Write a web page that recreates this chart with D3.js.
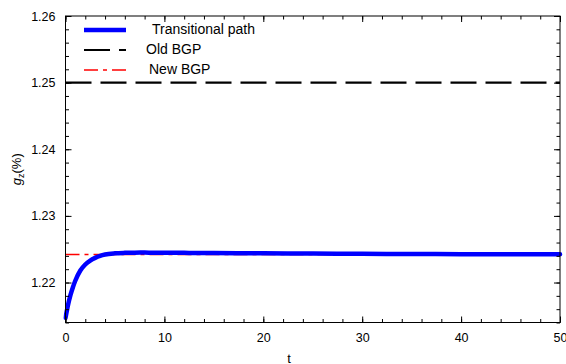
<!DOCTYPE html>
<html>
<head>
<meta charset="utf-8">
<script src="https://cdn.jsdelivr.net/npm/d3@7"></script>
<style>
  html, body { margin: 0; padding: 0; background: #fff; }
  svg { display: block; font-family: "Liberation Sans", Arial, sans-serif; }
</style>
</head>
<body>
<svg id="chart" width="566" height="364"></svg>
<script>
// Transitional path of g_z after the shock
const tValues = [0, 0.25, 0.5, 0.75, 1, 1.5, 2, 2.5, 3, 3.5, 4, 5, 6, 7, 8, 9, 10, 12, 15, 20, 25, 30, 35, 40, 45, 50];
const gzValues = [1.2147, 1.2166, 1.2181, 1.2193, 1.2203, 1.2218, 1.2227, 1.2233, 1.2237, 1.2240, 1.2242,
                  1.22438, 1.22445, 1.22448, 1.22449, 1.22448, 1.22447, 1.22445, 1.22442, 1.22438,
                  1.22434, 1.22431, 1.22428, 1.22426, 1.22425, 1.22424];
const oldBGP = 1.25;
const newBGP = 1.2242;

const xTicks = [0, 10, 20, 30, 40, 50];
const yTicks = [1.22, 1.23, 1.24, 1.25, 1.26];
const xMinorTicks = d3.range(0, 50.001, 2);
const yMinorTicks = d3.range(1.214, 1.2601, 0.002).map(v => +v.toFixed(3));

const legendLabels = ["Transitional path", "Old BGP", "New BGP"];

const margin = { left: 65.5, right: 6, top: 16, bottom: 41.5 };
const W = 566, H = 364;
const svg = d3.select("#chart");

const x = d3.scaleLinear().domain([0, 50]).range([margin.left, W - margin.right]);
const y = d3.scaleLinear().domain([1.214, 1.26]).range([H - margin.bottom, margin.top]);

const x0 = x.range()[0], x1 = x.range()[1];
const y0 = y.range()[0], y1 = y.range()[1];

// clip for the data lines
svg.append("defs").append("clipPath").attr("id", "plotClip")
  .append("rect").attr("x", x0 - 2).attr("y", y1).attr("width", x1 - x0 + 5).attr("height", y0 - y1);

const plot = svg.append("g").attr("clip-path", "url(#plotClip)");

// old balanced growth path
plot.append("line")
  .attr("x1", x(0)).attr("x2", x(50))
  .attr("y1", y(oldBGP)).attr("y2", y(oldBGP))
  .attr("stroke", "#000").attr("stroke-width", 2.2)
  .attr("stroke-dasharray", "26,9");

// new balanced growth path
plot.append("line")
  .attr("x1", x(0)).attr("x2", x(50))
  .attr("y1", y(newBGP)).attr("y2", y(newBGP))
  .attr("stroke", "#ff0000").attr("stroke-width", 1.6)
  .attr("stroke-dasharray", "14,5,4,5");

// transitional path
const pathData = tValues.map((t, i) => [t, gzValues[i]]);
plot.append("path")
  .datum(pathData)
  .attr("fill", "none")
  .attr("stroke", "#0000ff")
  .attr("stroke-width", 4.5)
  .attr("stroke-linecap", "round")
  .attr("d", d3.line().x(d => x(d[0])).y(d => y(d[1])).curve(d3.curveMonotoneX));

// frame
svg.append("rect")
  .attr("x", x0).attr("y", y1).attr("width", x1 - x0).attr("height", y0 - y1)
  .attr("fill", "none").attr("stroke", "#000").attr("stroke-width", 1);

// axes with inward ticks
function styleAxis(g) {
  g.select(".domain").remove();
  g.selectAll(".tick line").attr("stroke", "#000");
}
const fmt = d3.format(".2f");
const tickFont = 12.5;

// bottom
svg.append("g").attr("transform", `translate(0,${y0})`)
  .call(d3.axisBottom(x).tickValues(xMinorTicks).tickSize(-3.5).tickFormat(""))
  .call(styleAxis);
svg.append("g").attr("transform", `translate(0,${y0})`)
  .call(d3.axisBottom(x).tickValues(xTicks).tickSize(-6).tickPadding(11).tickFormat(d3.format("d")))
  .call(styleAxis)
  .call(g => g.selectAll("text").attr("font-size", tickFont).attr("fill", "#000")
    .attr("font-family", "'Liberation Sans', Arial, sans-serif"));
// top
svg.append("g").attr("transform", `translate(0,${y1})`)
  .call(d3.axisTop(x).tickValues(xMinorTicks).tickSize(-3.5).tickFormat(""))
  .call(styleAxis);
svg.append("g").attr("transform", `translate(0,${y1})`)
  .call(d3.axisTop(x).tickValues(xTicks).tickSize(-6).tickFormat(""))
  .call(styleAxis);
// left
svg.append("g").attr("transform", `translate(${x0},0)`)
  .call(d3.axisLeft(y).tickValues(yMinorTicks).tickSize(-3.5).tickFormat(""))
  .call(styleAxis);
svg.append("g").attr("transform", `translate(${x0},0)`)
  .call(d3.axisLeft(y).tickValues(yTicks).tickSize(-6).tickPadding(10).tickFormat(fmt))
  .call(styleAxis)
  .call(g => g.selectAll("text").attr("font-size", tickFont).attr("fill", "#000")
    .attr("font-family", "'Liberation Sans', Arial, sans-serif"));
// right
svg.append("g").attr("transform", `translate(${x1},0)`)
  .call(d3.axisRight(y).tickValues(yMinorTicks).tickSize(-3.5).tickFormat(""))
  .call(styleAxis);
svg.append("g").attr("transform", `translate(${x1},0)`)
  .call(d3.axisRight(y).tickValues(yTicks).tickSize(-6).tickFormat(""))
  .call(styleAxis);

// axis titles
svg.append("text")
  .attr("x", 289).attr("y", 363)
  .attr("text-anchor", "middle").attr("font-size", 13)
  .text("t");

const yl = svg.append("text")
  .attr("transform", `translate(21,${(y0 + y1) / 2}) rotate(-90)`)
  .attr("text-anchor", "middle").attr("font-size", 13);
yl.append("tspan").attr("font-style", "italic").text("g");
yl.append("tspan").attr("font-size", 9).attr("dy", 3).text("z");
yl.append("tspan").attr("dy", -3).text("(%)");

// legend
const legend = svg.append("g");
const legendStyles = [
  { stroke: "#0000ff", width: 4.5, dash: null, y: 30, tx: 152 },
  { stroke: "#000", width: 2.2, dash: "26,9", y: 50, tx: 146 },
  { stroke: "#ff0000", width: 1.6, dash: "14,5,4,5", y: 70, tx: 149 }
];
legendLabels.forEach((label, i) => {
  const s = legendStyles[i];
  legend.append("line")
    .attr("x1", 84).attr("x2", 126).attr("y1", s.y).attr("y2", s.y)
    .attr("stroke", s.stroke).attr("stroke-width", s.width)
    .attr("stroke-dasharray", s.dash);
  legend.append("text")
    .attr("x", s.tx).attr("y", s.y + 4)
    .attr("font-size", 14)
    .text(label);
});
</script>
</body>
</html>
